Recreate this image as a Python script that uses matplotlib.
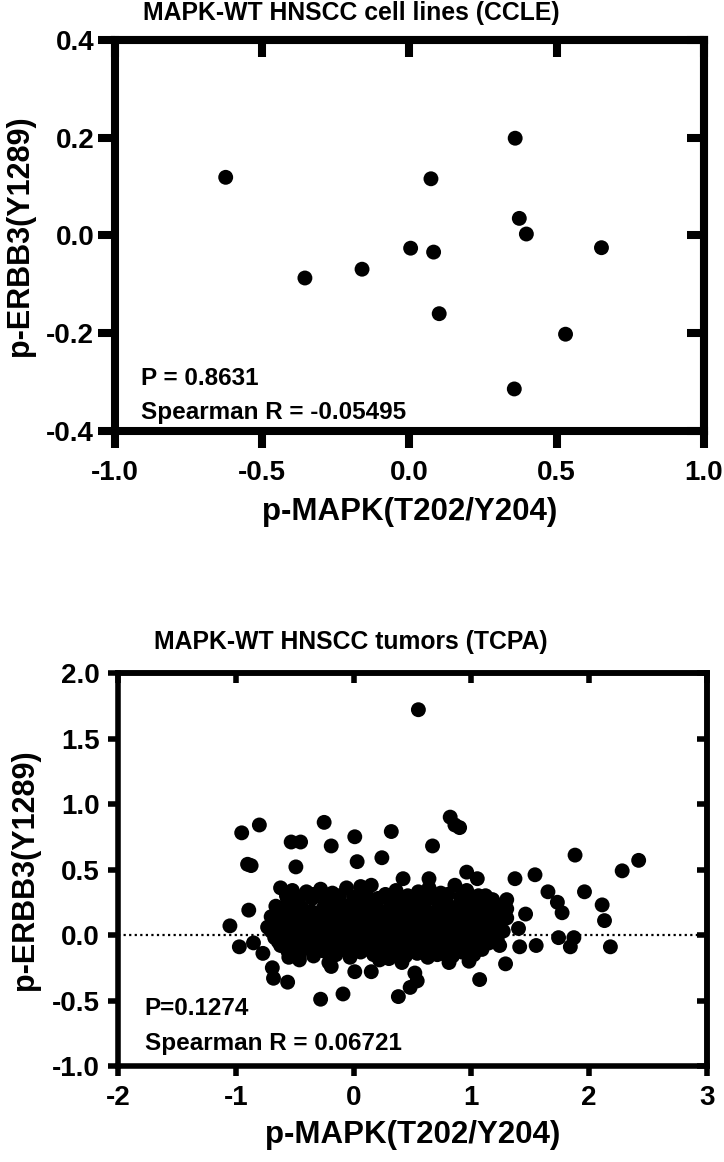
import matplotlib
matplotlib.use("Agg")
import matplotlib.pyplot as plt

# CCLE cell lines (top panel)
ccle_x = [-0.624, -0.355, -0.161, 0.004, 0.073, 0.082, 0.101, 0.359, 0.373, 0.397, 0.356, 0.530, 0.652]
ccle_y = [0.119, -0.087, -0.069, -0.026, 0.116, -0.034, -0.160, 0.199, 0.035, 0.003, -0.314, -0.202, -0.025]

# TCPA tumors (bottom panel), scattered points
tcpa_outer_x = [-0.95, -0.80, -0.90, -0.87, -0.53, -0.45, -0.49, -0.25, -0.19, 0.01, 0.03, 0.32,
                0.24, 0.67, 0.82, 0.86, 0.90, 0.55, 1.88, 2.42, 2.28, 1.96, 2.11, 2.13, 2.18,
                1.65, 1.73, 1.77, 1.74, 1.87, 1.84, 1.54, 1.37, 1.55, 1.41, 1.46, 1.40, 1.30,
                1.30, 1.29, 1.07, 0.98, 0.96, 1.05, 0.64, 0.42, 1.16, 1.22,
                -1.05, -0.97, -0.89, -0.85, -0.77, -0.69, -0.68, -0.56, -0.46, -0.55, -0.28,
                -0.09, 0.01, 0.15, 0.38, 0.48, 0.54, 0.52, 0.41, -0.21, -0.19, 0.30, 0.22,
                0.81, 0.71, 1.04, 1.22]
tcpa_outer_y = [0.78, 0.84, 0.54, 0.53, 0.71, 0.71, 0.52, 0.86, 0.68, 0.75, 0.56, 0.79,
                0.59, 0.68, 0.90, 0.84, 0.82, 1.72, 0.61, 0.57, 0.49, 0.33, 0.23, 0.11, -0.09,
                0.33, 0.25, 0.17, -0.02, -0.02, -0.09, 0.46, 0.43, -0.08, -0.09, 0.16, 0.05, 0.27,
                0.20, -0.22, -0.34, -0.20, 0.48, 0.43, 0.43, 0.43, 0.27, 0.17,
                0.07, -0.09, 0.19, -0.06, -0.14, -0.25, -0.33, -0.36, -0.19, -0.17, -0.49,
                -0.45, -0.28, -0.28, -0.47, -0.40, -0.35, -0.29, -0.21, -0.21, -0.24, -0.18, -0.19,
                -0.21, -0.15, -0.08, -0.04]

# dense core of the TCPA cloud, estimated row by row
tcpa_core_x = [-0.62, -0.52, -0.40, -0.28, -0.18, -0.06, 0.06, 0.15, 0.27, 0.36, 0.46, 0.55, 0.64, 0.74, 0.86, 0.96, 1.06, 1.18,
               -0.57, -0.46, -0.34, -0.23, -0.12, 0.00, 0.11, 0.21, 0.31, 0.41, 0.51, 0.60, 0.69, 0.80, 0.91, 1.01, 1.12,
               -0.66, -0.56, -0.47, -0.35, -0.24, -0.13, -0.03, 0.09, 0.19, 0.30, 0.40, 0.50, 0.60, 0.70, 0.80, 0.91, 1.01, 1.11, 1.24,
               -0.64, -0.53, -0.44, -0.36, -0.26, -0.16, -0.06, 0.04, 0.14, 0.24, 0.34, 0.44, 0.53, 0.62, 0.72, 0.82, 0.92, 1.02, 1.12, 1.22,
               -0.70, -0.59, -0.50, -0.41, -0.31, -0.21, -0.11, -0.01, 0.10, 0.19, 0.29, 0.38, 0.47, 0.57, 0.67, 0.77, 0.86, 0.97, 1.06, 1.16, 1.30,
               -0.68, -0.58, -0.48, -0.39, -0.29, -0.19, -0.10, 0.00, 0.10, 0.20, 0.29, 0.39, 0.48, 0.58, 0.68, 0.77, 0.87, 0.97, 1.07, 1.16, 1.26,
               -0.73, -0.63, -0.54, -0.44, -0.34, -0.24, -0.15, -0.05, 0.05, 0.15, 0.24, 0.34, 0.43, 0.53, 0.63, 0.72, 0.82, 0.92, 1.02, 1.11, 1.21,
               -0.70, -0.60, -0.50, -0.40, -0.30, -0.20, -0.10, 0.00, 0.10, 0.19, 0.29, 0.39, 0.48, 0.58, 0.68, 0.77, 0.87, 0.97, 1.07, 1.17,
               -0.67, -0.57, -0.48, -0.38, -0.29, -0.19, -0.09, 0.01, 0.11, 0.20, 0.29, 0.39, 0.49, 0.58, 0.68, 0.78, 0.87, 0.97, 1.07, 1.17, 1.27,
               -0.64, -0.54, -0.44, -0.34, -0.24, -0.14, -0.04, 0.06, 0.15, 0.25, 0.34, 0.44, 0.53, 0.63, 0.72, 0.82, 0.91, 1.01, 1.11, 1.21,
               -0.62, -0.51, -0.41, -0.31, -0.21, -0.10, 0.00, 0.09, 0.19, 0.28, 0.37, 0.47, 0.57, 0.66, 0.76, 0.86, 0.95, 1.05, 1.15, 1.24,
               -0.56, -0.44, -0.26, -0.09, 0.03, 0.13, 0.23, 0.33, 0.42, 0.52, 0.61, 0.71, 0.80, 0.89, 0.99, 1.09,
               -0.46, -0.34, -0.15, -0.03, 0.06, 0.17, 0.26, 0.33, 0.44, 0.54, 0.63, 0.74, 0.84, 0.92, 1.02]
tcpa_core_y = [0.36, 0.34, 0.33, 0.35, 0.32, 0.36, 0.37, 0.38, 0.31, 0.34, 0.30, 0.33, 0.36, 0.32, 0.38, 0.34, 0.30, 0.27,
               0.30, 0.29, 0.31, 0.28, 0.30, 0.29, 0.31, 0.28, 0.30, 0.27, 0.29, 0.30, 0.28, 0.31, 0.29, 0.28, 0.30,
               0.22, 0.27, 0.25, 0.28, 0.24, 0.27, 0.23, 0.26, 0.24, 0.27, 0.22, 0.26, 0.24, 0.27, 0.23, 0.26, 0.22, 0.25, 0.21,
               0.20, 0.19, 0.21, 0.18, 0.20, 0.19, 0.21, 0.19, 0.20, 0.18, 0.21, 0.19, 0.20, 0.18, 0.21, 0.19, 0.20, 0.18, 0.20, 0.19,
               0.14, 0.17, 0.13, 0.18, 0.15, 0.12, 0.17, 0.14, 0.16, 0.13, 0.18, 0.15, 0.12, 0.17, 0.14, 0.18, 0.13, 0.16, 0.12, 0.15, 0.13,
               0.11, 0.10, 0.12, 0.11, 0.10, 0.12, 0.11, 0.10, 0.12, 0.11, 0.10, 0.12, 0.11, 0.10, 0.12, 0.11, 0.10, 0.12, 0.11, 0.10, 0.12,
               0.06, 0.09, 0.05, 0.08, 0.06, 0.09, 0.04, 0.07, 0.10, 0.05, 0.08, 0.06, 0.09, 0.04, 0.07, 0.10, 0.05, 0.08, 0.06, 0.09, 0.05,
               0.03, 0.04, 0.02, 0.03, 0.04, 0.02, 0.03, 0.04, 0.02, 0.03, 0.04, 0.02, 0.03, 0.04, 0.02, 0.03, 0.04, 0.02, 0.03, 0.04,
               -0.02, 0.01, -0.01, 0.02, -0.03, 0.00, 0.02, -0.02, 0.01, -0.01, 0.02, -0.03, 0.00, 0.02, -0.02, 0.01, -0.01, 0.02, -0.02, 0.00, 0.03,
               -0.05, -0.04, -0.05, -0.03, -0.05, -0.04, -0.05, -0.03, -0.05, -0.04, -0.05, -0.03, -0.05, -0.04, -0.05, -0.03, -0.05, -0.04, -0.05, -0.03,
               -0.08, -0.06, -0.09, -0.07, -0.10, -0.06, -0.09, -0.07, -0.10, -0.06, -0.08, -0.10, -0.07, -0.09, -0.06, -0.10, -0.07, -0.09, -0.06, -0.08,
               -0.12, -0.11, -0.12, -0.11, -0.12, -0.11, -0.12, -0.11, -0.12, -0.11, -0.12, -0.11, -0.12, -0.11, -0.12, -0.11,
               -0.14, -0.16, -0.15, -0.17, -0.13, -0.15, -0.17, -0.13, -0.16, -0.14, -0.17, -0.14, -0.16, -0.13, -0.15]

ccle_xticks = [-1.0, -0.5, 0.0, 0.5, 1.0]
ccle_yticks = [-0.4, -0.2, 0.0, 0.2, 0.4]
tcpa_xticks = [-2, -1, 0, 1, 2, 3]
tcpa_yticks = [-1.0, -0.5, 0.0, 0.5, 1.0, 1.5, 2.0]

plt.rcParams['axes.unicode_minus'] = False
plt.rcParams['font.family'] = ['Liberation Sans', 'DejaVu Sans']
plt.rcParams['font.weight'] = 'bold'
plt.rcParams['axes.labelweight'] = 'bold'


def style_axes(ax, xticks, yticks, xfmt, yfmt, lw, tlen, xpad, ypad):
    for s in ax.spines.values():
        s.set_linewidth(lw)
    ax.set_xticks(xticks)
    ax.set_yticks(yticks)
    ax.set_xticklabels([xfmt.format(v) for v in xticks])
    ax.set_yticklabels([yfmt.format(v) for v in yticks])
    ax.tick_params(direction='out', length=tlen, width=lw, labelsize=20)
    ax.tick_params(axis='x', pad=xpad)
    ax.tick_params(axis='y', pad=ypad)
    # inward ticks on top and right
    top = ax.secondary_xaxis('top')
    top.set_xticks(xticks)
    top.tick_params(direction='in', length=tlen, width=lw, labeltop=False)
    top.spines['top'].set_linewidth(lw)
    right = ax.secondary_yaxis('right')
    right.set_yticks(yticks)
    right.tick_params(direction='in', length=tlen, width=lw, labelright=False)
    right.spines['right'].set_linewidth(lw)


fig = plt.figure(figsize=(7.24, 11.62), dpi=100)

# top panel
ax1 = fig.add_axes([0.1588, 0.6291, 0.8135, 0.3365])
ax1.scatter(ccle_x, ccle_y, s=115, color='black', edgecolors='none', zorder=3)
ax1.set_xlim(-1.0, 1.0)
ax1.set_ylim(-0.4, 0.4)
style_axes(ax1, ccle_xticks, ccle_yticks, '{:.1f}', '{:.1f}', 5.8, 12, 9, 3)
ax1.set_xlabel('p-MAPK(T202/Y204)', fontsize=22.5, labelpad=8)
ax1.set_ylabel('p-ERBB3(Y1289)', fontsize=22)
ax1.yaxis.set_label_coords(-0.135, 0.5)
ax1.text(0.045, 0.135, 'P = 0.8631', transform=ax1.transAxes, fontsize=17.5, va='center')
ax1.text(0.045, 0.047, 'Spearman R = -0.05495', transform=ax1.transAxes, fontsize=17.5, va='center')
fig.text(0.485, 0.9888, 'MAPK-WT HNSCC cell lines (CCLE)', fontsize=17.8, ha='center', va='center')

# bottom panel
ax2 = fig.add_axes([0.163, 0.0826, 0.8135, 0.3382])
ax2.axhline(0, color='black', lw=1.6, ls=(0, (1, 1.5)), zorder=1)
ax2.scatter(tcpa_core_x + tcpa_outer_x, tcpa_core_y + tcpa_outer_y, s=115, color='black',
            edgecolors='none', zorder=3)
ax2.set_xlim(-2, 3)
ax2.set_ylim(-1.0, 2.0)
style_axes(ax2, tcpa_xticks, tcpa_yticks, '{:d}', '{:.1f}', 4.0, 7, 7, 6)
ax2.set_xlabel('p-MAPK(T202/Y204)', fontsize=22.5, labelpad=6)
ax2.set_ylabel('p-ERBB3(Y1289)', fontsize=22)
ax2.yaxis.set_label_coords(-0.132, 0.5)
ax2.text(0.045, 0.147, 'P=0.1274', transform=ax2.transAxes, fontsize=17.5, va='center')
ax2.text(0.045, 0.058, 'Spearman R = 0.06721', transform=ax2.transAxes, fontsize=17.5, va='center')
fig.text(0.485, 0.4475, 'MAPK-WT HNSCC tumors (TCPA)', fontsize=17.8, ha='center', va='center')

fig.savefig('out.png', dpi=100)
